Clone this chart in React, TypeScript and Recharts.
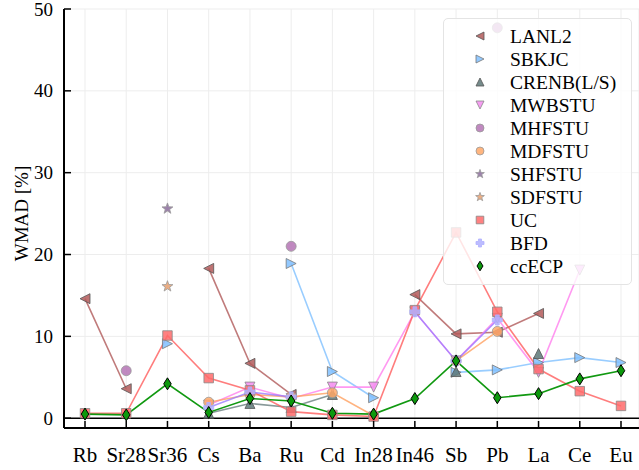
import React from 'react';
import {
  CartesianGrid, Label, Line, LineChart, ReferenceLine, XAxis, YAxis,
} from 'recharts';

const categories = ['Rb', 'Sr28', 'Sr36', 'Cs', 'Ba', 'Ru', 'Cd', 'In28', 'In46', 'Sb', 'Pb', 'La', 'Ce', 'Eu'];

const lanl2 = [14.6, 3.6, null, 18.3, 6.7, 2.9, null, null, 15.1, 10.3, 10.5, 12.8, null, null];
const sbkjc = [null, null, 9.1, null, null, 18.9, 5.7, 2.5, null, 5.6, 5.9, 6.8, 7.4, 6.8];
const crenb = [null, null, null, 0.6, 1.8, 1.3, 2.9, null, null, 5.7, null, 7.9, null, null];
const mwbstu = [null, null, null, 1.6, 3.8, 2.4, 3.8, 3.8, 13.0, 7.0, 12.2, 5.6, 18.1, null];
const mhfstu = [null, 5.8, null, null, null, 21.0, null, null, null, null, 47.7, null, null, null];
const mdfstu = [null, null, null, 1.95, 2.9, 2.6, 3.1, 0.3, null, 7.0, 10.6, null, null, null];
const shfstu = [null, null, 25.6, null, null, null, null, null, null, null, null, null, null, null];
const sdfstu = [null, null, 16.1, null, null, null, null, null, null, null, null, null, null, null];
const uc = [0.6, 0.6, 10.1, 4.9, 3.4, 0.8, 0.4, 0.2, 13.2, 22.7, 13.0, 6.0, 3.3, 1.5];
const bfd = [null, null, null, 1.3, 3.2, 2.6, null, null, 13.0, 7.0, 12.0, null, null, null];
const ccecp = [0.5, 0.4, 4.2, 0.7, 2.4, 2.1, 0.6, 0.5, 2.4, 7.0, 2.5, 3.0, 4.8, 5.8];

const yTicks = [0, 10, 20, 30, 40, 50];

type Shape = 'tl' | 'tr' | 'tu' | 'td' | 'circle' | 'square' | 'star' | 'plus' | 'diamond';

interface SeriesDef {
  key: string;
  values: (number | null)[];
  shape: Shape;
  fill: string;
  edge: string;
  line: string | null;
}

const series: SeriesDef[] = [
  { key: 'LANL2', values: lanl2, shape: 'tl', fill: '#b35a5a', edge: '#555', line: '#b05a5a' },
  { key: 'SBKJC', values: sbkjc, shape: 'tr', fill: '#80bfff', edge: '#777', line: '#80c0ff' },
  { key: 'CRENB(L/S)', values: crenb, shape: 'tu', fill: '#5e7878', edge: '#555', line: '#6a8080' },
  { key: 'MWBSTU', values: mwbstu, shape: 'td', fill: '#f48cf0', edge: '#888', line: '#ff80ee' },
  { key: 'MHFSTU', values: mhfstu, shape: 'circle', fill: '#b574b5', edge: '#999', line: null },
  { key: 'MDFSTU', values: mdfstu, shape: 'circle', fill: '#ffa868', edge: '#999', line: '#ffa060' },
  { key: 'SHFSTU', values: shfstu, shape: 'star', fill: '#8c6d9c', edge: '#999', line: null },
  { key: 'SDFSTU', values: sdfstu, shape: 'star', fill: '#e8a070', edge: '#999', line: null },
  { key: 'UC', values: uc, shape: 'square', fill: '#ff6b6b', edge: '#888', line: '#ff5c5c' },
  { key: 'BFD', values: bfd, shape: 'plus', fill: '#b0b0ff', edge: '#b0b0ff', line: '#9c7cff' },
  { key: 'ccECP', values: ccecp, shape: 'diamond', fill: '#0c990c', edge: '#000', line: '#119911' },
];

const data = categories.map((name, i) => {
  const row: Record<string, string | number | null> = { name };
  series.forEach((s) => { row[s.key] = s.values[i]; });
  return row;
});

function markerPath(shape: Shape, cx: number, cy: number, r: number): string {
  switch (shape) {
    case 'tl': return `M${cx - r},${cy} L${cx + r},${cy - r} L${cx + r},${cy + r} Z`;
    case 'tr': return `M${cx + r},${cy} L${cx - r},${cy - r} L${cx - r},${cy + r} Z`;
    case 'tu': return `M${cx},${cy - r} L${cx - r},${cy + r} L${cx + r},${cy + r} Z`;
    case 'td': return `M${cx},${cy + r} L${cx - r},${cy - r} L${cx + r},${cy - r} Z`;
    case 'square': return `M${cx - r * 0.95},${cy - r * 0.95} h${r * 1.9} v${r * 1.9} h${-r * 1.9} Z`;
    case 'diamond': return `M${cx},${cy - r * 1.2} L${cx + r * 0.75},${cy} L${cx},${cy + r * 1.2} L${cx - r * 0.75},${cy} Z`;
    case 'plus': {
      const a = r * 0.38;
      return `M${cx - a},${cy - r} h${2 * a} v${r - a} h${r - a} v${2 * a} h${a - r} v${r - a} h${-2 * a} v${a - r} h${a - r} v${-2 * a} h${r - a} Z`;
    }
    case 'star': {
      let d = '';
      for (let k = 0; k < 10; k += 1) {
        const rad = k % 2 === 0 ? r * 1.15 : r * 0.47;
        const ang = -Math.PI / 2 + (k * Math.PI) / 5;
        d += `${k === 0 ? 'M' : 'L'}${cx + rad * Math.cos(ang)},${cy + rad * Math.sin(ang)} `;
      }
      return `${d}Z`;
    }
    default: return '';
  }
}

function Marker({ s, cx, cy, r }: { s: SeriesDef; cx: number; cy: number; r: number }) {
  if (s.shape === 'circle') {
    return <circle cx={cx} cy={cy} r={r} fill={s.fill} fillOpacity={0.85} stroke={s.edge} strokeWidth={0.8} />;
  }
  return (
    <path
      d={markerPath(s.shape, cx, cy, r)}
      fill={s.fill}
      fillOpacity={s.shape === 'diamond' ? 1 : 0.85}
      stroke={s.edge}
      strokeWidth={s.shape === 'diamond' ? 1 : 0.8}
    />
  );
}

function makeDot(s: SeriesDef) {
  return (p: any) => {
    const k = `${s.key}-${p.index}`;
    if (p.cx == null || p.cy == null || p.value == null) return <g key={k} />;
    return <Marker key={k} s={s} cx={p.cx} cy={p.cy} r={5} />;
  };
}

const serif = '"Liberation Serif", "DejaVu Serif", serif';

// ticks point inward, like the matplotlib original
function XTick({ x, y, payload }: any) {
  return (
    <g>
      <line x1={x} x2={x} y1={y} y2={y - 7} stroke="#000" strokeWidth={1.5} />
      <text x={x} y={y + 34} textAnchor="middle" fontSize={21} fontFamily={serif} fill="#000">
        {payload.value}
      </text>
    </g>
  );
}

function YTick({ x, y, payload }: any) {
  return (
    <g>
      <line x1={x} x2={x + 7} y1={y} y2={y} stroke="#000" strokeWidth={1.5} />
      <text x={x - 11} y={y} dy="0.35em" textAnchor="end" fontSize={19} fontFamily={serif} fill="#000">
        {payload.value}
      </text>
    </g>
  );
}

function YLabel({ viewBox }: any) {
  const cx = viewBox.x + 21;
  const cy = viewBox.y + viewBox.height / 2 - 5;
  return (
    <text
      x={cx}
      y={cy}
      dy="0.35em"
      textAnchor="middle"
      transform={`rotate(-90, ${cx}, ${cy})`}
      fontSize={19}
      fontFamily={serif}
      fill="#000"
    >
      WMAD [%]
    </text>
  );
}

function ChartLegend() {
  return (
    <div
      style={{
        position: 'absolute',
        left: 443,
        top: 18,
        width: 189,
        height: 267,
        background: 'rgba(255,255,255,0.8)',
        border: '1px solid #e4e4e4',
        borderRadius: 5,
        boxSizing: 'border-box',
      }}
    >
      <svg width={189} height={267} style={{ position: 'absolute', left: 0, top: 0 }}>
        {series.map((s, i) => (
          <g key={s.key}>
            <Marker s={s} cx={36} cy={17 + i * 23} r={4} />
            <text x={66} y={17 + i * 23} dy="0.35em" fontSize={19.5} fontFamily={serif} fill="#000">
              {s.key}
            </text>
          </g>
        ))}
      </svg>
    </div>
  );
}

export default function App() {
  return (
    <div style={{
      position: 'absolute', left: 0, top: 0, width: 639, height: 470, overflow: 'hidden', background: '#fff',
    }}
    >
      <LineChart width={639} height={470} data={data} margin={{ top: 9, right: 0, left: 0, bottom: 0 }}>
        <CartesianGrid stroke="#ededed" strokeWidth={1} />
        <XAxis
          dataKey="name"
          height={42}
          interval={0}
          padding={{ left: 21, right: 18 }}
          tickSize={0}
          tickMargin={0}
          tickLine={false}
          axisLine={{ stroke: '#000', strokeWidth: 2 }}
          tick={<XTick />}
        />
        <YAxis
          type="number"
          width={64}
          domain={[-1.2, 50]}
          ticks={yTicks}
          allowDataOverflow
          tickSize={0}
          tickMargin={0}
          tickLine={false}
          axisLine={{ stroke: '#000', strokeWidth: 2 }}
          tick={<YTick />}
        >
          <Label content={<YLabel />} />
        </YAxis>
        <ReferenceLine y={0} stroke="#000" strokeWidth={1.5} />
        {series.map((s) => (
          <Line
            key={s.key}
            dataKey={s.key}
            stroke={s.line ?? 'none'}
            strokeWidth={1.6}
            strokeOpacity={s.key === 'ccECP' ? 1 : 0.8}
            connectNulls={false}
            dot={makeDot(s)}
            activeDot={false}
            isAnimationActive={false}
          />
        ))}
      </LineChart>
      <ChartLegend />
    </div>
  );
}
